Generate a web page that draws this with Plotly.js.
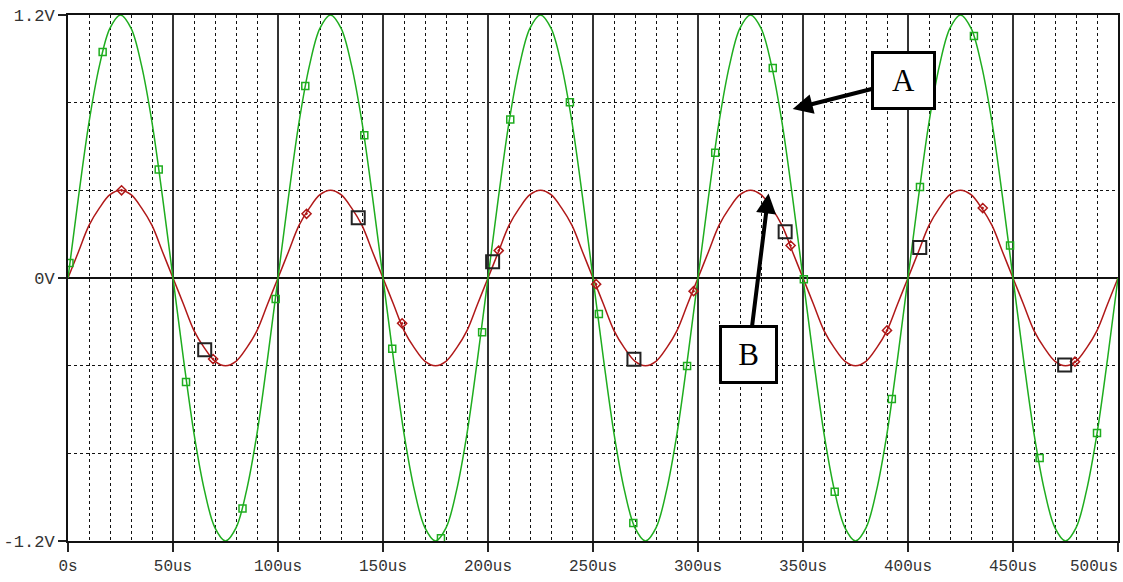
<!DOCTYPE html>
<html>
<head>
<meta charset="utf-8">
<script src="https://cdn.plot.ly/plotly-3.0.1.min.js"></script>
<style>html,body{margin:0;padding:0;background:#fff;}#chart{width:1123px;height:582px;}</style>
</head>
<body>
<div id="chart"></div>
<script>
// time axis (us)
var timeUs = [0,5,10,15,20,25,30,35,40,45,50,55,60,65,70,75,80,85,90,95,
  100,105,110,115,120,125,130,135,140,145,150,155,160,165,170,175,180,185,190,195,
  200,205,210,215,220,225,230,235,240,245,250,255,260,265,270,275,280,285,290,295,
  300,305,310,315,320,325,330,335,340,345,350,355,360,365,370,375,380,385,390,395,
  400,405,410,415,420,425,430,435,440,445,450,455,460,465,470,475,480,485,490,495,500];

// trace A (green), volts
var traceA = [0,0.37,0.71,0.97,1.14,1.2,1.14,0.97,0.71,0.37,0,-0.37,-0.71,-0.97,-1.14,-1.2,-1.14,-0.97,-0.71,-0.37,
  0,0.37,0.71,0.97,1.14,1.2,1.14,0.97,0.71,0.37,0,-0.37,-0.71,-0.97,-1.14,-1.2,-1.14,-0.97,-0.71,-0.37,
  0,0.37,0.71,0.97,1.14,1.2,1.14,0.97,0.71,0.37,0,-0.37,-0.71,-0.97,-1.14,-1.2,-1.14,-0.97,-0.71,-0.37,
  0,0.37,0.71,0.97,1.14,1.2,1.14,0.97,0.71,0.37,0,-0.37,-0.71,-0.97,-1.14,-1.2,-1.14,-0.97,-0.71,-0.37,
  0,0.37,0.71,0.97,1.14,1.2,1.14,0.97,0.71,0.37,0,-0.37,-0.71,-0.97,-1.14,-1.2,-1.14,-0.97,-0.71,-0.37,0];

// trace B (red), volts
var traceB = [0,0.12,0.24,0.32,0.38,0.4,0.38,0.32,0.24,0.12,0,-0.12,-0.24,-0.32,-0.38,-0.4,-0.38,-0.32,-0.24,-0.12,
  0,0.12,0.24,0.32,0.38,0.4,0.38,0.32,0.24,0.12,0,-0.12,-0.24,-0.32,-0.38,-0.4,-0.38,-0.32,-0.24,-0.12,
  0,0.12,0.24,0.32,0.38,0.4,0.38,0.32,0.24,0.12,0,-0.12,-0.24,-0.32,-0.38,-0.4,-0.38,-0.32,-0.24,-0.12,
  0,0.12,0.24,0.32,0.38,0.4,0.38,0.32,0.24,0.12,0,-0.12,-0.24,-0.32,-0.38,-0.4,-0.38,-0.32,-0.24,-0.12,
  0,0.12,0.24,0.32,0.38,0.4,0.38,0.32,0.24,0.12,0,-0.12,-0.24,-0.32,-0.38,-0.4,-0.38,-0.32,-0.24,-0.12,0];

// markers on trace A
var markA_t = [0.7,16.5,43.2,56.2,83.1,98.9,113,141.1,154.4,177.6,197.2,210.6,239,252.8,269.2,294.8,308.2,335.6,350.4,365.1,392.3,405.7,431.4,448.6,462.7,490];
var markA_v = [0.068,1.031,0.495,-0.474,-1.052,-0.096,0.876,0.651,-0.323,-1.188,-0.248,0.723,0.802,-0.164,-1.118,-0.401,0.572,0.958,-0.006,-0.975,-0.552,0.415,1.104,0.148,-0.821,-0.707];

// markers on trace B
var markB_t = [25.5,69.1,113.6,159.1,205.1,251.5,297.9,344.1,390,435.6,479.5];
var markB_v = [0.4,-0.37,0.293,-0.207,0.125,-0.028,-0.06,0.148,-0.239,0.319,-0.382];

// large black square markers
var markC_t = [65.1,138.2,202.2,269.5,341.5,405.6,474.6];
var markC_v = [-0.327,0.275,0.074,-0.371,0.211,0.139,-0.397];

// axis tick labels (last label drawn right-aligned at the axis end)
var xTickVals = [0,50,100,150,200,250,300,350,400,450,500];
var xTickText = ['0s','50us','100us','150us','200us','250us','300us','350us','400us','450us',''];
var xEndLabel = '500us';
var yTickVals = [-1.2,0,1.2];
var yTickText = ['-1.2V','0V','1.2V'];
var yDotVals = [-0.8,-0.4,0.4,0.8];

var green = '#1fad1f', red = '#b01818';

var data = [
  {x: timeUs, y: traceB, mode: 'lines', line: {color: red, width: 1.5, shape: 'spline'}, hoverinfo: 'skip'},
  {x: timeUs, y: traceA, mode: 'lines', line: {color: green, width: 1.5, shape: 'spline'}, hoverinfo: 'skip'},
  {x: markA_t, y: markA_v, mode: 'markers', marker: {symbol: 'square-open', size: 7, color: green, line: {width: 1.5, color: green}}},
  {x: markB_t, y: markB_v, mode: 'markers', marker: {symbol: 'diamond-open-dot', size: 7, color: red, line: {width: 1.5, color: red}}},
  {x: markC_t, y: markC_v, mode: 'markers', marker: {symbol: 'square-open', size: 13, color: '#222', line: {width: 2, color: '#222'}}}
];

var xFont = {family: 'Liberation Mono, DejaVu Sans Mono, monospace', size: 16, color: '#333'};
var yFont = {family: 'Liberation Mono, DejaVu Sans Mono, monospace', size: 17, color: '#333'};

var layout = {
  width: 1123, height: 582,
  margin: {l: 68, r: 5, t: 15, b: 41, pad: 0},
  paper_bgcolor: '#fff', plot_bgcolor: '#fff',
  showlegend: false,
  xaxis: {
    range: [0, 500], tickmode: 'array', tickvals: xTickVals, ticktext: xTickText,
    ticks: 'outside', ticklen: 9, tickwidth: 1.5, tickcolor: '#222',
    showgrid: true, gridcolor: '#333', gridwidth: 1.5,
    minor: {dtick: 10, tick0: 0, showgrid: true, gridcolor: '#111', gridwidth: 1, griddash: 'dot', ticks: ''},
    showline: true, linecolor: '#111', linewidth: 2, mirror: true,
    zeroline: false, tickfont: xFont, fixedrange: true
  },
  yaxis: {
    range: [-1.2, 1.2], tickmode: 'array', tickvals: yTickVals, ticktext: yTickText,
    ticks: 'outside', ticklen: 8, tickwidth: 1.5, tickcolor: '#222',
    showgrid: false,
    minor: {tickmode: 'array', tickvals: yDotVals, showgrid: true, gridcolor: '#111', gridwidth: 1, griddash: 'dot', ticks: ''},
    zeroline: true, zerolinecolor: '#111', zerolinewidth: 2,
    showline: true, linecolor: '#111', linewidth: 2, mirror: true,
    tickfont: yFont, fixedrange: true
  },
  annotations: [
    {x: 345.1, y: 0.771, xref: 'x', yref: 'y', ax: 397.9, ay: 0.899, axref: 'x', ayref: 'y',
     text: 'A', showarrow: true, arrowhead: 2, arrowsize: 1, arrowwidth: 4, arrowcolor: '#000',
     font: {family: 'Liberation Serif, Times New Roman, serif', size: 31, color: '#000'},
     bgcolor: '#fff', bordercolor: '#000', borderwidth: 3, borderpad: 0, width: 59, height: 53},
    {x: 333.6, y: 0.386, xref: 'x', yref: 'y', ax: 324.1, ay: -0.347, axref: 'x', ayref: 'y',
     text: 'B', showarrow: true, arrowhead: 2, arrowsize: 1, arrowwidth: 4, arrowcolor: '#000',
     font: {family: 'Liberation Serif, Times New Roman, serif', size: 31, color: '#000'},
     bgcolor: '#fff', bordercolor: '#000', borderwidth: 3, borderpad: 0, width: 53, height: 53},
    {x: 500, xref: 'x', y: 0, yref: 'paper', xanchor: 'right', yanchor: 'top', yshift: -15, xshift: 2,
     text: xEndLabel, showarrow: false, font: xFont, borderpad: 1}
  ]
};

Plotly.newPlot('chart', data, layout, {displayModeBar: false, staticPlot: true});
</script>
</body>
</html>
